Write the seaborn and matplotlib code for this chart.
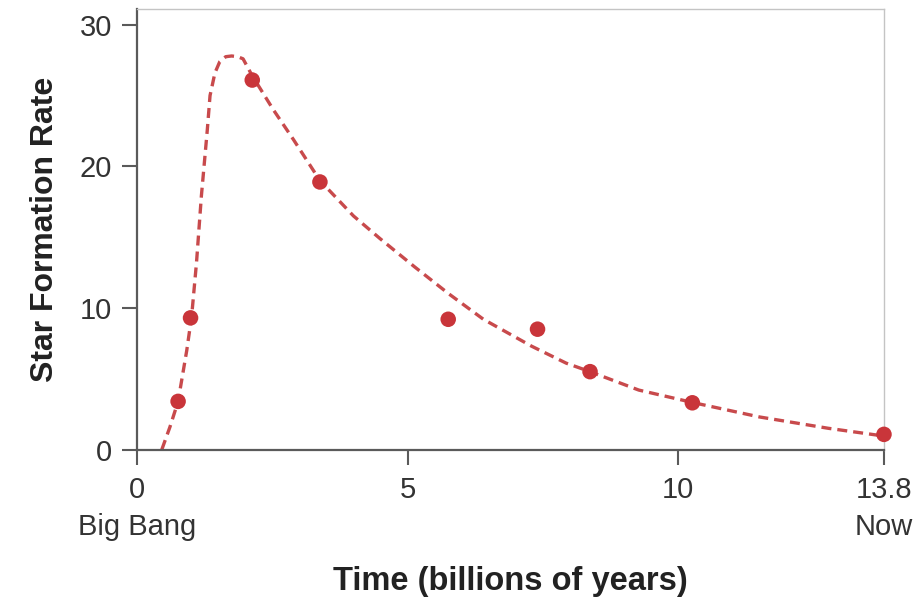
import matplotlib
matplotlib.use("Agg")
from matplotlib import pyplot as plt
import seaborn as sns

# Observed star formation rate (dots)
time_obs = [0.76, 0.99, 2.13, 3.38, 5.75, 7.40, 8.37, 10.26, 13.8]
rate_obs = [3.4, 9.3, 26.1, 18.9, 9.2, 8.5, 5.5, 3.3, 1.07]

# Model curve (dashed)
time_fit = [0.46, 0.61, 0.76, 0.92, 1.01, 1.10, 1.19, 1.30, 1.35, 1.44, 1.53, 1.64,
            1.75, 1.86, 1.96, 2.13, 2.52, 2.89, 3.38, 4.00, 4.49, 5.13, 5.76, 6.40,
            7.29, 7.93, 8.37, 9.27, 10.29, 11.50, 12.77, 13.80]
rate_fit = [0.0, 1.6, 3.4, 7.0, 9.4, 13.2, 17.9, 22.6, 25.0, 26.6, 27.4, 27.75,
            27.8, 27.75, 27.6, 26.4, 24.0, 21.9, 19.0, 16.5, 14.9, 12.9, 11.0, 9.2,
            7.3, 6.1, 5.5, 4.2, 3.3, 2.3, 1.5, 0.95]

xtick_pos = [0, 5, 10, 13.8]
xtick_labels = ["0\nBig Bang", "5", "10", "13.8\nNow"]
ytick_pos = [0, 10, 20, 30]

sns.set_style("white")
plt.rcParams["font.family"] = ["Liberation Sans", "DejaVu Sans"]

fig = plt.figure(figsize=(9.21, 6.02), dpi=100)
ax = fig.add_axes([0.1487, 0.2533, 0.8111, 0.7313])

red = "#c9353a"
sns.lineplot(x=time_fit, y=rate_fit, ax=ax, color="#c84a4c", linewidth=2.4,
             linestyle=(0, (3, 1.8)), sort=False, zorder=2)
sns.scatterplot(x=time_obs, y=rate_obs, ax=ax, color=red, s=125,
                edgecolor="none", zorder=3, clip_on=False)

ax.set_xlim(0, 13.8)
ax.set_ylim(0, 31.1)
ax.set_xticks(xtick_pos)
ax.set_xticklabels(xtick_labels)
ax.set_yticks(ytick_pos)

for side in ["left", "bottom"]:
    ax.spines[side].set_color("#5a5a5a")
    ax.spines[side].set_linewidth(1.6)
for side in ["top", "right"]:
    ax.spines[side].set_color("#c4c4c4")
    ax.spines[side].set_linewidth(1.0)

ax.tick_params(axis="both", bottom=True, left=True, direction="out", length=11,
               width=1.5, color="#5a5a5a", labelcolor="#333333", labelsize=21)
ax.tick_params(axis="x", pad=8)
ax.tick_params(axis="y", pad=7)
for lbl in ax.get_xticklabels():
    lbl.set_linespacing(1.4)

ax.set_xlabel("Time (billions of years)", fontsize=23.5, fontweight="bold",
              color="#222222", labelpad=18)
ax.set_ylabel("Star Formation Rate", fontsize=23, fontweight="bold",
              color="#222222", labelpad=14)

fig.savefig("out.png", dpi=100)
